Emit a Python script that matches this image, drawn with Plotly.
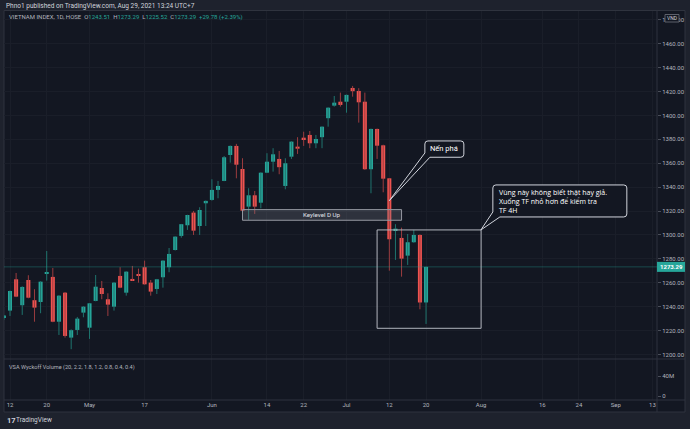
import pandas as pd
import plotly.graph_objects as go

# ---------------- data ----------------
dates = [
    "2021-04-09", "2021-04-12", "2021-04-13", "2021-04-14", "2021-04-15", "2021-04-16", "2021-04-19",
    "2021-04-20", "2021-04-22", "2021-04-23", "2021-04-26", "2021-04-27", "2021-04-28", "2021-04-29",
    "2021-05-04", "2021-05-05", "2021-05-06", "2021-05-07", "2021-05-10", "2021-05-11", "2021-05-12",
    "2021-05-13", "2021-05-14", "2021-05-17", "2021-05-18", "2021-05-19", "2021-05-20", "2021-05-21",
    "2021-05-24", "2021-05-25", "2021-05-26", "2021-05-27", "2021-05-28", "2021-05-31",
    "2021-06-01", "2021-06-02", "2021-06-03", "2021-06-04", "2021-06-07", "2021-06-08", "2021-06-09",
    "2021-06-10", "2021-06-11", "2021-06-14", "2021-06-15", "2021-06-16", "2021-06-17", "2021-06-18",
    "2021-06-21", "2021-06-22", "2021-06-23", "2021-06-24", "2021-06-25", "2021-06-28", "2021-06-29",
    "2021-06-30",
    "2021-07-01", "2021-07-02", "2021-07-05", "2021-07-06", "2021-07-07", "2021-07-08", "2021-07-09",
    "2021-07-12", "2021-07-13", "2021-07-14", "2021-07-15", "2021-07-16", "2021-07-19", "2021-07-20",
]
opens = [
    1231.0, 1236.7, 1262.9, 1241.2, 1262.3, 1245.4, 1243.9, 1267.6, 1264.9, 1227.4, 1251.7, 1214.1, 1220.5, 1235.0,
    1222.4, 1244.8, 1255.6, 1246.2, 1240.0, 1265.7, 1251.7, 1263.2, 1267.1, 1273.0, 1260.1, 1254.8, 1264.6, 1273.0,
    1287.4, 1299.2, 1308.1, 1318.7, 1307.5, 1326.5,
    1329.3, 1337.7, 1345.2, 1366.9, 1374.5, 1355.2, 1323.7, 1333.2, 1327.0, 1352.1, 1361.3, 1363.6, 1341.0, 1365.5,
    1373.9, 1381.4, 1383.7, 1376.7, 1381.8, 1397.7, 1408.2, 1411.5,
    1411.5, 1423.0, 1420.5, 1411.5, 1355.0, 1388.7, 1375.0, 1347.4, 1303.9, 1297.5, 1282.7, 1293.9, 1300.0, 1243.51,
]
highs = [
    1233.0, 1253.5, 1268.2, 1257.0, 1266.3, 1254.6, 1261.2, 1286.6, 1272.4, 1249.5, 1252.2, 1221.0, 1231.4, 1240.3,
    1243.0, 1266.5, 1261.5, 1251.2, 1260.5, 1273.0, 1269.5, 1274.1, 1271.8, 1278.5, 1262.3, 1263.2, 1278.8, 1289.1,
    1298.8, 1309.2, 1316.9, 1320.1, 1323.2, 1328.8,
    1346.6, 1345.2, 1366.1, 1374.8, 1376.2, 1364.2, 1339.1, 1336.8, 1352.3, 1368.4, 1372.6, 1370.3, 1364.2, 1378.3,
    1381.8, 1386.4, 1387.0, 1383.7, 1390.8, 1406.7, 1416.3, 1419.1,
    1417.4, 1424.7, 1422.8, 1419.1, 1389.0, 1389.0, 1375.5, 1347.6, 1309.0, 1306.1, 1300.8, 1304.2, 1300.5, 1273.29,
]
lows = [
    1229.0, 1232.2, 1248.0, 1233.1, 1247.0, 1227.4, 1234.5, 1261.8, 1227.0, 1216.3, 1214.1, 1204.4, 1216.3, 1231.1,
    1213.0, 1244.5, 1246.2, 1232.2, 1236.7, 1255.5, 1249.2, 1261.8, 1260.1, 1258.5, 1249.2, 1250.6, 1255.9, 1268.8,
    1287.0, 1297.7, 1304.2, 1300.0, 1300.0, 1307.5,
    1328.7, 1330.7, 1345.0, 1360.5, 1347.4, 1320.0, 1312.6, 1317.6, 1322.3, 1351.8, 1353.0, 1350.8, 1338.2, 1363.6,
    1367.8, 1374.5, 1372.6, 1372.6, 1372.6, 1390.6, 1407.4, 1407.4,
    1402.3, 1415.7, 1394.0, 1354.5, 1334.9, 1363.6, 1335.7, 1270.1, 1279.1, 1265.1, 1274.9, 1293.5, 1237.8, 1225.52,
]
closes = [
    1232.5, 1253.1, 1248.4, 1256.5, 1247.5, 1239.2, 1260.9, 1268.8, 1227.4, 1249.2, 1215.5, 1220.3, 1230.0, 1240.0,
    1242.8, 1256.7, 1250.6, 1241.7, 1260.1, 1255.9, 1269.3, 1262.1, 1266.3, 1258.7, 1252.6, 1262.9, 1278.5, 1284.1,
    1298.6, 1309.0, 1316.7, 1303.6, 1320.9, 1328.5,
    1337.7, 1341.0, 1365.0, 1374.5, 1358.8, 1320.3, 1333.2, 1323.7, 1352.1, 1361.3, 1367.5, 1356.7, 1360.0, 1378.1,
    1372.2, 1380.1, 1376.7, 1380.3, 1390.6, 1406.5, 1410.7, 1408.8,
    1417.2, 1420.3, 1411.0, 1355.0, 1388.7, 1374.7, 1347.1, 1296.4, 1305.3, 1280.2, 1293.9, 1300.0, 1243.5, 1273.29,
]
holidays = ["2021-04-21", "2021-04-30", "2021-05-03", "2021-09-02", "2021-09-03"]
tick_dates = ["2021-04-12", "2021-04-20", "2021-05-04", "2021-05-17", "2021-06-01", "2021-06-14", "2021-06-22",
              "2021-07-01", "2021-07-12", "2021-07-20", "2021-08-02", "2021-08-16", "2021-08-24", "2021-09-01",
              "2021-09-13"]
tick_labels = ["12", "20", "May", "17", "Jun", "14", "22", "Jul", "12", "20", "Aug", "16", "24", "Sep", "13"]
price_ticks = list(range(1200, 1481, 20))
vol_ticks = [0, 40e6]
vol_labels = ["0", "40M"]
last_price = 1273.29
callout_lines = ["Vùng này không biết thật hay giả.", "Xuống TF nhỏ hơn để kiểm tra", "TF 4H"]

# ---------------- calendar (bar index axis) ----------------
cal = pd.bdate_range("2021-04-09", "2021-09-30", freq="C", holidays=holidays)
pos = {d.strftime("%Y-%m-%d"): i for i, d in enumerate(cal)}
xs = [pos[d] for d in dates]

# ---------------- style ----------------
UP, DN = "#26a69a", "#ef5350"
UPW, DNW = "#1f746e", "#9c3c3f"
PANE, OUTER = "#131722", "#1e222d"
BORDER = "#2f333e"
TXT = "#b2b5be"
FONT = "Roboto"

L, R, T, B = 4, 33, 11, 29
W, H = 690, 429
PW, PH = W - L - R, H - T - B


def px_x(px):
    return (px - L) / PW


def px_y(py):
    return (H - B - py) / PH


vol_split = px_y(359)

fig = go.Figure()

# wicks
for up in (True, False):
    wx, wy = [], []
    for x, o, h, l, c in zip(xs, opens, highs, lows, closes):
        if (c >= o) == up:
            wx += [x, x, None]
            wy += [l, h, None]
    fig.add_trace(go.Scatter(x=wx, y=wy, mode="lines", line=dict(color=UPW if up else DNW, width=1),
                             hoverinfo="skip", showlegend=False))

# bodies
bases = [min(o, c) for o, c in zip(opens, closes)]
heights = [max(abs(c - o), 0.9) for o, c in zip(opens, closes)]
colors = [UP if c >= o else DN for o, c in zip(opens, closes)]
fig.add_trace(go.Bar(x=xs, y=heights, base=bases, width=0.66, marker=dict(color=colors, line=dict(width=0)),
                     hoverinfo="skip", showlegend=False))

# empty volume pane
fig.add_trace(go.Scatter(x=[], y=[], yaxis="y2", showlegend=False, hoverinfo="skip"))

tickfont = dict(family=FONT, size=6, color=TXT)
GRID = "#1a1e29"

fig.update_layout(
    width=W, height=H,
    margin=dict(l=L, r=R, t=T, b=B),
    paper_bgcolor=OUTER, plot_bgcolor=PANE,
    barmode="overlay", showlegend=False, hovermode=False,
    xaxis=dict(range=[0.02, 106.75], tickmode="array", tickvals=[pos[d] for d in tick_dates], ticktext=tick_labels,
               tickfont=tickfont, showgrid=True, gridcolor=GRID, zeroline=False, showline=False, ticks="",
               anchor="y2", fixedrange=True),
    yaxis=dict(domain=[vol_split, 1], range=[1196.2, 1487.4], side="right", tickmode="array", tickvals=price_ticks,
               tickformat=".2f", ticks="outside", ticklen=3, tickcolor="#4a4e59", tickfont=tickfont,
               showgrid=True, gridcolor=GRID, zeroline=False, showline=False, anchor="x", fixedrange=True),
    yaxis2=dict(domain=[0, vol_split], range=[-8e6, 74e6], side="right", tickmode="array", tickvals=vol_ticks,
                ticktext=vol_labels, ticks="outside", ticklen=3, tickcolor="#4a4e59", tickfont=tickfont,
                showgrid=False, zeroline=False, showline=False, anchor="x", fixedrange=True),
)

shapes = []
# pane background incl. axis strips
shapes.append(dict(type="rect", xref="paper", yref="paper", x0=px_x(4), x1=px_x(685), y0=px_y(412), y1=px_y(10.5),
                   fillcolor=PANE, line=dict(color=BORDER, width=1), layer="below"))
# separators
shapes.append(dict(type="line", xref="paper", yref="paper", x0=1, x1=1, y0=px_y(412), y1=px_y(10.5),
                   line=dict(color=BORDER, width=1)))
shapes.append(dict(type="line", xref="paper", yref="paper", x0=px_x(4), x1=px_x(685), y0=vol_split, y1=vol_split,
                   line=dict(color=BORDER, width=1)))
shapes.append(dict(type="line", xref="paper", yref="paper", x0=px_x(4), x1=px_x(685), y0=0, y1=0,
                   line=dict(color=BORDER, width=1)))
# last price line
shapes.append(dict(type="line", xref="paper", yref="y", x0=0, x1=1, y0=last_price, y1=last_price,
                   line=dict(color="rgba(38,166,154,0.35)", width=1)))
# keylevel box
shapes.append(dict(type="rect", xref="x", yref="y", x0=pos["2021-06-08"], x1=pos["2021-07-14"], y0=1312.3, y1=1321.2,
                   fillcolor="rgba(120,123,134,0.28)", line=dict(color="#9598a1", width=1)))
# big rectangle
shapes.append(dict(type="rect", xref="x", yref="y", x0=pos["2021-07-08"], x1=pos["2021-08-02"], y0=1221.9, y1=1304.2,
                   fillcolor="rgba(0,0,0,0)", line=dict(color="#b2b5be", width=1)))
# "Nến phá" callout
p1 = ("M 69.31,1378.66 L 74.68,1378.66 Q 75.18,1378.66 75.18,1376.16 L 75.18,1367.52 "
      "Q 75.18,1365.02 74.68,1365.02 L 69.63,1365.02 L 63.0,1328.7 L 68.81,1368.6 "
      "L 68.81,1376.16 Q 68.81,1378.66 69.31,1378.66 Z")
shapes.append(dict(type="path", xref="x", yref="y", path=p1, fillcolor=PANE, line=dict(color="#d1d4dc", width=1)))
# big callout
p2 = ("M 80.42,1341.84 L 101.32,1341.84 Q 101.82,1341.84 101.82,1339.34 L 101.82,1317.56 "
      "Q 101.82,1315.06 101.32,1315.06 L 81.07,1315.06 L 77.96,1304.18 L 79.92,1319.25 "
      "L 79.92,1339.34 Q 79.92,1341.84 80.42,1341.84 Z")
shapes.append(dict(type="path", xref="x", yref="y", path=p2, fillcolor=PANE, line=dict(color="#d1d4dc", width=1)))
# last price label box
shapes.append(dict(type="rect", xref="paper", yref="y", x0=1.0, x1=px_x(685), y0=last_price - 4.2,
                   y1=last_price + 4.2, fillcolor=UP, line=dict(width=0)))
# VND box
shapes.append(dict(type="rect", xref="paper", yref="paper", x0=px_x(665), x1=px_x(679), y0=px_y(22), y1=px_y(14.5),
                   fillcolor=PANE, line=dict(color="#5d606b", width=1)))
fig.update_layout(shapes=shapes)

ann = []


def note(text, x, y, size=6, color=TXT, xanchor="left", xref="paper", yref="paper", family=FONT):
    ann.append(dict(text=text, x=x, y=y, xref=xref, yref=yref, xanchor=xanchor, yanchor="middle", align="left",
                    showarrow=False, font=dict(family=family, size=size, color=color)))


note("Phno1 published on TradingView.com, Aug 29, 2021 13:24 UTC+7", px_x(4), px_y(5.5), size=6.5, color="#d1d4dc")
hdr = ("VIETNAM INDEX, 1D, HOSE&nbsp;&nbsp;O<span style='color:#26a69a'>1243.51</span>&nbsp;&nbsp;"
       "H<span style='color:#26a69a'>1273.29</span>&nbsp;&nbsp;L<span style='color:#26a69a'>1225.52</span>&nbsp;&nbsp;"
       "C<span style='color:#26a69a'>1273.29</span>&nbsp;&nbsp;<span style='color:#26a69a'>+29.78 (+2.39%)</span>")
note(hdr, px_x(7), px_y(17.3), size=6, color=TXT)
note("VSA Wyckoff Volume (20, 2.2, 1.8, 1.2, 0.8, 0.4, 0.4)", px_x(7), px_y(367), size=5.6, color=TXT)
note("VND", px_x(672), px_y(18.3), size=5, color="#d1d4dc", xanchor="center")
note("<b>1273.29</b>", px_x(671), last_price, size=6, color="white", xanchor="center", yref="y")
note("Keylevel D Up", (pos["2021-06-08"] + pos["2021-07-14"]) / 2, 1316.7, size=6.2, color="#e0e3eb",
     xanchor="center", xref="x", yref="y")
note("Nến phá", 72.0, 1372.2, size=7.5, color="#ffffff", xanchor="center", xref="x", yref="y")
note("<br>".join(callout_lines), 80.6, 1328.2, size=7, color="#ffffff", xref="x", yref="y", family="Open Sans")
note("<b>17</b>", px_x(4.5), px_y(420), size=7.5, color="#d1d4dc")
note("TradingView", px_x(14), px_y(420), size=6.5, color="#d1d4dc")
fig.update_layout(annotations=ann)

fig.write_html("out.html", config={"displayModeBar": False})
